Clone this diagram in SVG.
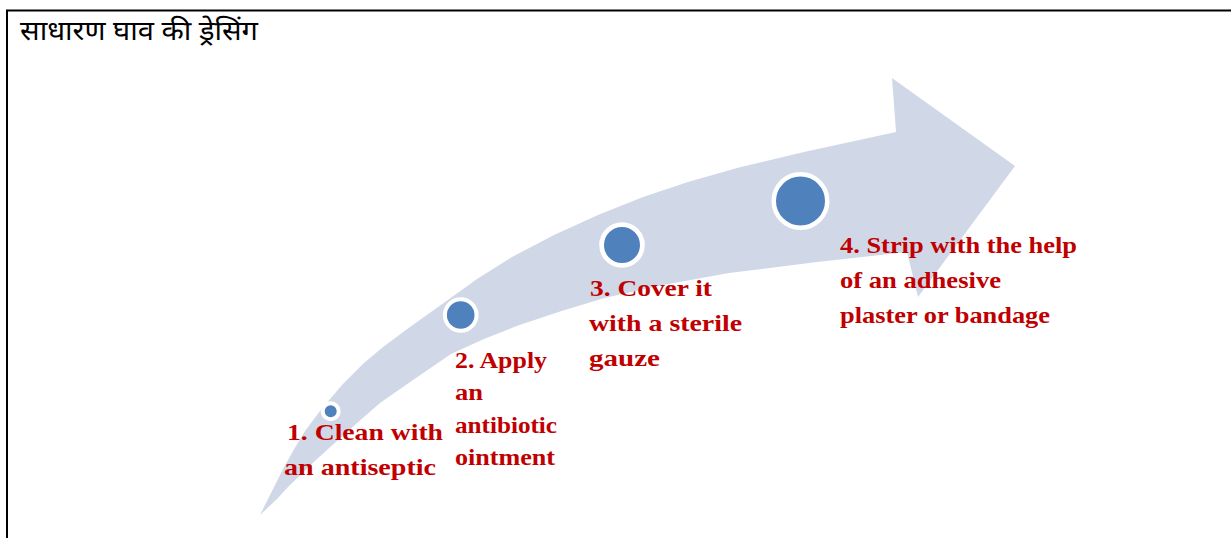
<svg xmlns="http://www.w3.org/2000/svg" width="1231" height="538" viewBox="0 0 1231 538">
  <style>
    .lbl { font-family: "Liberation Serif", "Times New Roman", serif; font-weight: bold; font-size: 24px; fill: #C00000; }
    .title { font-family: "Noto Sans Devanagari", "Lohit Devanagari", "Mangal", "Noto Sans", sans-serif; font-size: 27px; fill: #000000; }
    .dot { fill: #4F81BD; stroke: #FFFFFF; }
    .frame { stroke: #000000; stroke-width: 2; fill: none; }
  </style>
  <rect x="0" y="0" width="1231" height="538" fill="#FFFFFF"/>
  <g id="frame">
    <line class="frame" x1="6" y1="10.5" x2="1231" y2="10.5"/>
    <line class="frame" x1="7" y1="10" x2="7" y2="538"/>
  </g>
  <g id="title">
    <text class="title" x="20" y="40" textLength="238" lengthAdjust="spacingAndGlyphs">साधारण घाव की ड्रेसिंग</text>
  </g>
  <g id="connectors">
    <path id="arrow" fill="#D0D8E8" d="M260,515 L271,493 L282,471 L293,451 L305,431 L321.5,409 L342,385 L364,363 L383,347 L410,327 L443.6,303 L477,279 L512,257 L554,235 L598,215 L643,197 L688,182 L737,168 L804,152 L896,132 L892,78 L1015,166 L918,297 L907,252 L817,262 L729,273 L663,285 L604.5,298 L561.6,311 L516.6,326 L484,339 L451,354 L413,380 L380,403 L348,431 L317,459 L288,487 L277,499 Z"/>
  </g>
  <g id="step1">
    <circle class="dot" cx="330.7" cy="411.3" r="8" stroke-width="4"/>
    <text class="lbl" x="287" y="440" textLength="156" lengthAdjust="spacingAndGlyphs">1. Clean with</text>
    <text class="lbl" x="284" y="475" textLength="152" lengthAdjust="spacingAndGlyphs">an antiseptic</text>
  </g>
  <g id="step2">
    <circle class="dot" cx="460.7" cy="315" r="15.8" stroke-width="4"/>
    <text class="lbl" x="455" y="368" textLength="92" lengthAdjust="spacingAndGlyphs">2. Apply</text>
    <text class="lbl" x="455" y="400" textLength="28" lengthAdjust="spacingAndGlyphs">an</text>
    <text class="lbl" x="455" y="433" textLength="102" lengthAdjust="spacingAndGlyphs">antibiotic</text>
    <text class="lbl" x="455" y="465" textLength="100" lengthAdjust="spacingAndGlyphs">ointment</text>
  </g>
  <g id="step3">
    <circle class="dot" cx="622" cy="245" r="20.4" stroke-width="4.8"/>
    <text class="lbl" x="590" y="296" textLength="122" lengthAdjust="spacingAndGlyphs">3. Cover it</text>
    <text class="lbl" x="589" y="331" textLength="153" lengthAdjust="spacingAndGlyphs">with a sterile</text>
    <text class="lbl" x="589" y="366" textLength="71" lengthAdjust="spacingAndGlyphs">gauze</text>
  </g>
  <g id="step4">
    <circle class="dot" cx="800.5" cy="201" r="26.75" stroke-width="4.5"/>
    <text class="lbl" x="840" y="253" textLength="237" lengthAdjust="spacingAndGlyphs">4. Strip with the help</text>
    <text class="lbl" x="840" y="288" textLength="161" lengthAdjust="spacingAndGlyphs">of an adhesive</text>
    <text class="lbl" x="840" y="323" textLength="210" lengthAdjust="spacingAndGlyphs">plaster or bandage</text>
  </g>
</svg>
